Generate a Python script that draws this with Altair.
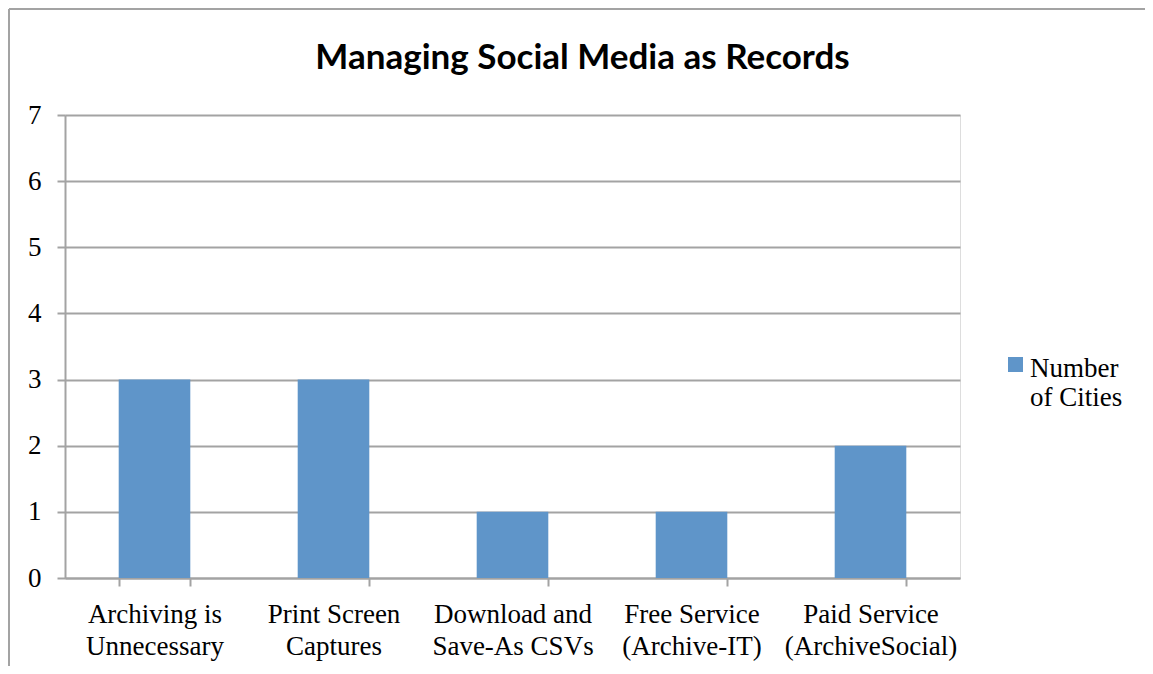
import altair as alt
import pandas as pd

categories = ["Archiving is\nUnnecessary", "Print Screen\nCaptures", "Download and\nSave-As CSVs",
              "Free Service\n(Archive-IT)", "Paid Service\n(ArchiveSocial)"]
values = [3, 3, 1, 1, 2]
series_name = "Number\nof Cities"
title_text = "Managing Social Media as Records"

df = pd.DataFrame({"category": categories, "value": values, "series": [series_name] * len(categories)})

SERIF = "Liberation Serif"
GRID = "#A3A3A3"
FS = 27

bars = alt.Chart(df).mark_bar(color="#5F95C9").encode(
    x=alt.X("category:N", sort=None, title=None,
            scale=alt.Scale(paddingInner=0.6, paddingOuter=0.3),
            axis=alt.Axis(labelExpr="split(datum.label, '\\n')", labelAngle=0,
                          labelFont=SERIF, labelFontSize=FS, labelColor="#000000",
                          labelLineHeight=32, labelPadding=15, labelBaseline="top",
                          tickBand="extent", tickSize=8, tickColor=GRID, tickWidth=2,
                          domainColor=GRID, domainWidth=2, grid=False)),
    y=alt.Y("value:Q", title=None,
            scale=alt.Scale(domain=[0, 7], nice=False),
            axis=alt.Axis(values=[0, 1, 2, 3, 4, 5, 6, 7], format="d",
                          labelFont=SERIF, labelFontSize=FS, labelColor="#000000",
                          labelPadding=16, tickSize=8, tickColor=GRID, tickWidth=2,
                          domainColor=GRID, domainWidth=2,
                          grid=True, gridColor=GRID, gridWidth=2)),
    color=alt.Color("series:N", scale=alt.Scale(range=["#5F95C9"]),
                    legend=alt.Legend(title=None, orient="none", legendX=937, legendY=248,
                                      labelExpr="split(datum.label, '\\n')",
                                      labelFont=SERIF, labelFontSize=FS, labelColor="#000000",
                                      labelBaseline="alphabetic", labelOffset=1,
                                      symbolType="M-1,-2.6L1,-2.6L1,-0.6L-1,-0.6Z",
                                      symbolSize=225, symbolStrokeWidth=0, padding=0)),
)

border_top = alt.Chart(df).mark_rule(color=GRID, strokeWidth=2).encode(
    x=alt.value(-56), x2=alt.value(1100), y=alt.value(-106))
border_left = alt.Chart(df).mark_rule(color=GRID, strokeWidth=2).encode(
    x=alt.value(-56), y=alt.value(-106), y2=alt.value(570))

chart = alt.layer(bars, border_top, border_left).properties(
    width=895, height=463,
    title=alt.TitleParams(title_text, font="Lato", fontSize=35, fontWeight="bold",
                          color="#000000", anchor="middle", baseline="alphabetic",
                          dx=70, dy=96, offset=0),
    autosize=alt.AutoSizeParams(type="none"),
    padding={"left": 57, "top": 107, "right": 185, "bottom": 88},
).configure_view(stroke=None).configure(background="#FFFFFF")

chart.save("out.html", embed_options={"renderer": "svg", "actions": False})
